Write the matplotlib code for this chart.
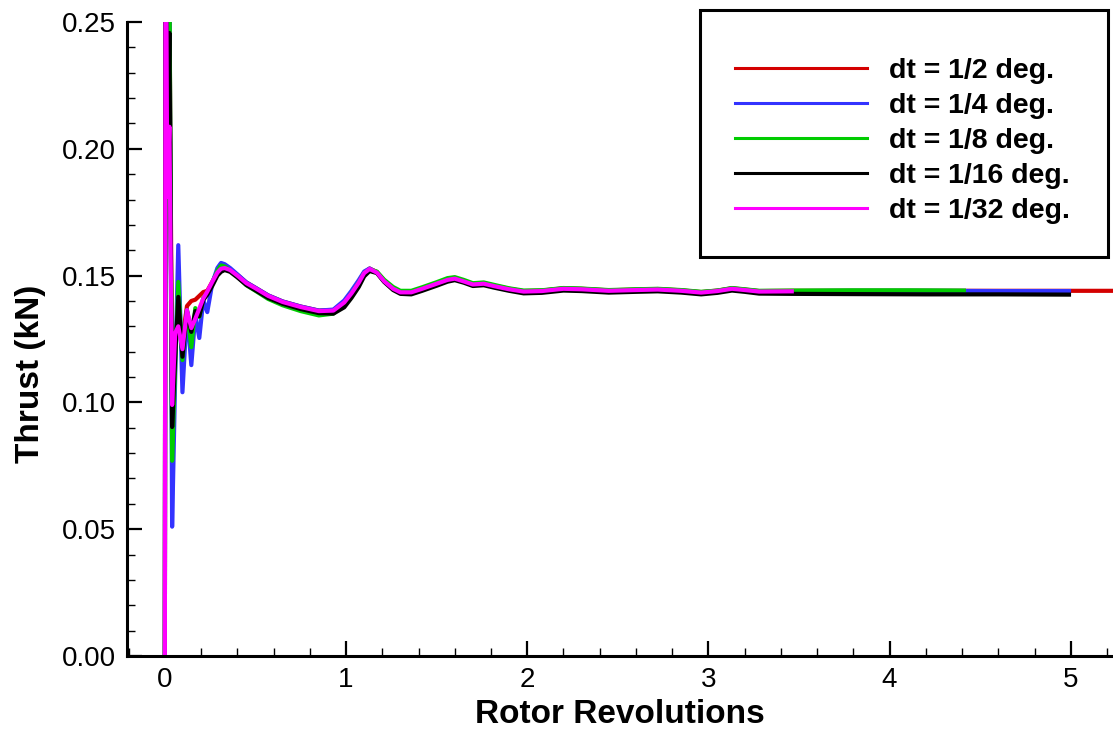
import matplotlib
matplotlib.use('Agg')
import matplotlib.pyplot as plt
from matplotlib.patches import Rectangle
from matplotlib.ticker import MultipleLocator, FormatStrFormatter

plt.rcParams['font.family'] = ['Liberation Sans', 'DejaVu Sans']

# rotor revolutions shared by all runs (start-up transient, then settling)
rev_early = [0.0, 0.004, 0.013, 0.025, 0.040, 0.057, 0.074, 0.097, 0.122, 0.146,
             0.168, 0.190, 0.212, 0.234, 0.262, 0.290, 0.310, 0.330]
rev_mid = [0.36, 0.40, 0.45, 0.50, 0.57, 0.65, 0.75, 0.85, 0.93, 0.99, 1.03, 1.07,
           1.10, 1.13, 1.17, 1.21, 1.26, 1.30, 1.36, 1.42, 1.50, 1.56, 1.60, 1.65,
           1.70, 1.76, 1.82, 1.90, 1.98, 2.08, 2.20, 2.30, 2.45, 2.60, 2.72, 2.85,
           2.96, 3.05, 3.13, 3.20, 3.28, 3.46]

# thrust (kN) per time step
thrust_half_early = [0.0, 0.33, 0.181, 0.26, 0.105, 0.125, 0.135, 0.125, 0.138, 0.1400,
                     0.1405, 0.1420, 0.1435, 0.1440, 0.1476, 0.1512, 0.1527, 0.1532]
thrust_half_mid = [0.1525, 0.1503, 0.1473, 0.1452, 0.1422, 0.1398, 0.1378, 0.1362, 0.1364,
                   0.1396, 0.1433, 0.1475, 0.1512, 0.1528, 0.1514, 0.1480, 0.1450, 0.1436,
                   0.1436, 0.1450, 0.1470, 0.1485, 0.1490, 0.1479, 0.1467, 0.1470, 0.1460,
                   0.1448, 0.1439, 0.1441, 0.1450, 0.1448, 0.1442, 0.1445, 0.1447, 0.1442,
                   0.1435, 0.1441, 0.1450, 0.1445, 0.1439, 0.1440]
rev_half_tail = [3.8, 4.2, 4.6, 5.0, 5.3]
thrust_half_tail = [0.1440, 0.1440, 0.1440, 0.1440, 0.1440]

thrust_quarter_early = [0.0, 0.33, 0.181, 0.27, 0.051, 0.110, 0.162, 0.104, 0.1364, 0.1147,
                        0.1345, 0.1254, 0.1404, 0.1356, 0.1471, 0.1530, 0.1550, 0.1545]
thrust_quarter_mid = [0.1530, 0.1505, 0.1473, 0.1452, 0.1422, 0.1398, 0.1378, 0.1362, 0.1366,
                      0.1402, 0.1440, 0.1482, 0.1516, 0.1528, 0.1512, 0.1478, 0.1448, 0.1435,
                      0.1435, 0.1449, 0.1469, 0.1484, 0.1489, 0.1478, 0.1466, 0.1469, 0.1459,
                      0.1447, 0.1438, 0.1440, 0.1449, 0.1447, 0.1441, 0.1444, 0.1446, 0.1441,
                      0.1434, 0.1440, 0.1449, 0.1444, 0.1438, 0.1439]
rev_quarter_tail = [3.8, 4.2, 4.6, 4.99]
thrust_quarter_tail = [0.1440, 0.1440, 0.1439, 0.1439]

thrust_eighth_early = [0.0, 0.33, 0.181, 0.27, 0.077, 0.115, 0.1475, 0.1167, 0.1364, 0.1218,
                       0.1372, 0.1337, 0.1412, 0.1430, 0.1471, 0.1520, 0.1540, 0.1536]
thrust_eighth_mid = [0.1520, 0.1497, 0.1462, 0.1440, 0.1408, 0.1383, 0.1360, 0.1343, 0.1350,
                     0.1388, 0.1430, 0.1472, 0.1510, 0.1524, 0.1516, 0.1484, 0.1455, 0.1440,
                     0.1440, 0.1454, 0.1474, 0.1490, 0.1494, 0.1483, 0.1470, 0.1473, 0.1463,
                     0.1450, 0.1441, 0.1442, 0.1451, 0.1449, 0.1443, 0.1446, 0.1448, 0.1443,
                     0.1436, 0.1441, 0.1451, 0.1446, 0.1440, 0.1441]
rev_eighth_tail = [3.8, 4.1, 4.41]
thrust_eighth_tail = [0.1442, 0.1442, 0.1441]

thrust_16th_early = [0.0, 0.33, 0.181, 0.2457, 0.0903, 0.118, 0.1416, 0.1180, 0.1360, 0.1278,
                     0.1360, 0.1340, 0.1404, 0.1425, 0.1460, 0.1500, 0.1515, 0.1522]
thrust_16th_mid = [0.1515, 0.1493, 0.1463, 0.1442, 0.1412, 0.1389, 0.1368, 0.1352, 0.1350,
                   0.1375, 0.1412, 0.1455, 0.1497, 0.1518, 0.1510, 0.1475, 0.1443, 0.1428,
                   0.1426, 0.1440, 0.1460, 0.1476, 0.1482, 0.1472, 0.1459, 0.1462, 0.1452,
                   0.1440, 0.1430, 0.1432, 0.1441, 0.1439, 0.1433, 0.1436, 0.1438, 0.1433,
                   0.1426, 0.1432, 0.1441, 0.1436, 0.1429, 0.1428]
rev_16th_tail = [3.8, 4.2, 4.6, 4.99]
thrust_16th_tail = [0.1427, 0.1426, 0.1426, 0.1425]

thrust_32nd_early = [0.0, 0.33, 0.181, 0.2087, 0.099, 0.1274, 0.1300, 0.1210, 0.1364, 0.1293,
                     0.1330, 0.1370, 0.1410, 0.1437, 0.1476, 0.1512, 0.1527, 0.1530]
thrust_32nd_mid = [0.1522, 0.1500, 0.1470, 0.1450, 0.1420, 0.1396, 0.1376, 0.1360, 0.1362,
                   0.1394, 0.1430, 0.1472, 0.1510, 0.1526, 0.1512, 0.1478, 0.1448, 0.1434,
                   0.1434, 0.1448, 0.1468, 0.1483, 0.1488, 0.1477, 0.1465, 0.1468, 0.1458,
                   0.1446, 0.1437, 0.1439, 0.1448, 0.1446, 0.1440, 0.1443, 0.1445, 0.1440,
                   0.1433, 0.1439, 0.1448, 0.1443, 0.1437, 0.1438]
rev_32nd_tail = []
thrust_32nd_tail = []

labels = ['dt = 1/2 deg.', 'dt = 1/4 deg.', 'dt = 1/8 deg.', 'dt = 1/16 deg.', 'dt = 1/32 deg.']
colors = ['#d40000', '#3333ff', '#00cc00', '#000000', '#ff00ff']

runs = [
    (thrust_half_early, thrust_half_mid, rev_half_tail, thrust_half_tail),
    (thrust_quarter_early, thrust_quarter_mid, rev_quarter_tail, thrust_quarter_tail),
    (thrust_eighth_early, thrust_eighth_mid, rev_eighth_tail, thrust_eighth_tail),
    (thrust_16th_early, thrust_16th_mid, rev_16th_tail, thrust_16th_tail),
    (thrust_32nd_early, thrust_32nd_mid, rev_32nd_tail, thrust_32nd_tail),
]

fig = plt.figure(figsize=(11.13, 7.30), dpi=100)
ax = fig.add_axes([127/1113, 74/730, 986/1113, 634/730])

handles = []
for (early, mid, rtail, ttail), lab, col in zip(runs, labels, colors):
    x = rev_early + rev_mid + rtail
    y = early + mid + ttail
    h, = ax.plot(x, y, color=col, lw=3.0, label=lab, solid_joinstyle='round')
    handles.append(h)

ax.set_xlim(-0.209, 5.233)
ax.set_ylim(0.0, 0.25)

for s in ['top', 'right']:
    ax.spines[s].set_visible(False)
for s in ['left', 'bottom']:
    ax.spines[s].set_linewidth(2.2)

ax.xaxis.set_major_locator(MultipleLocator(1))
ax.xaxis.set_minor_locator(MultipleLocator(0.2))
ax.yaxis.set_major_locator(MultipleLocator(0.05))
ax.yaxis.set_minor_locator(MultipleLocator(0.01))
ax.yaxis.set_major_formatter(FormatStrFormatter('%.2f'))
ax.tick_params(which='major', direction='in', length=11, width=1.6, labelsize=20, pad=8)
ax.tick_params(which='minor', direction='in', length=6, width=1.0)

ax.set_xlabel('Rotor Revolutions', fontsize=24, fontweight='bold')
ax.set_ylabel('Thrust (kN)', fontsize=24, fontweight='bold')
ax.xaxis.set_label_coords(0.5, -0.068)
ax.yaxis.set_label_coords(-0.082, 0.445)

# legend box
fig.patches.append(Rectangle((700/1113, 473/730), 408/1113, 247/730, transform=fig.transFigure,
                             fill=False, lw=2.2, ec='black'))
leg = fig.legend(handles=handles, labels=labels, loc='upper left',
                 bbox_to_anchor=(735/1113, 1 - 58/730), frameon=False,
                 prop={'size': 20.5, 'weight': 'bold'}, handlelength=4.63,
                 handletextpad=0.77, labelspacing=0.32, borderpad=0, borderaxespad=0)
for l in leg.get_lines():
    l.set_linewidth(2.2)

fig.savefig('out.png', dpi=100)
